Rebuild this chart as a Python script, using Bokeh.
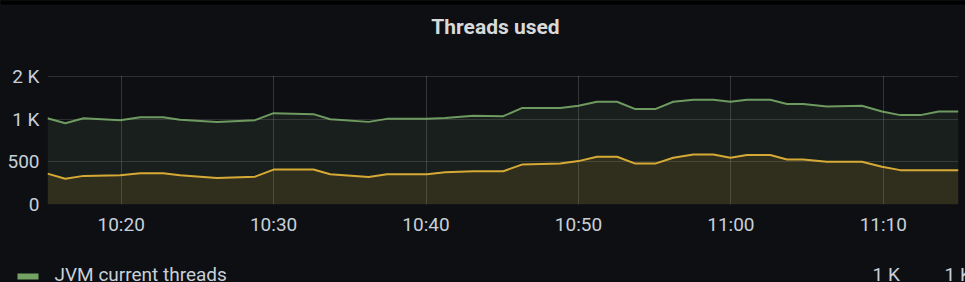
import pandas as pd
from bokeh.plotting import figure
from bokeh.layouts import column
from bokeh.models import (Range1d, FixedTicker, DatetimeTickFormatter, Label, BoxAnnotation, Grid)
from bokeh.embed import file_html
from bokeh.resources import INLINE

# ---------------- data ----------------
DAY = "2021-06-01"
times = ["10:15:10", "10:16:20", "10:17:32", "10:19:56", "10:21:15", "10:22:45", "10:23:52",
         "10:26:17", "10:28:47", "10:30:00", "10:32:37", "10:33:43", "10:36:14", "10:37:26",
         "10:40:04", "10:41:15", "10:43:06", "10:45:04", "10:46:17", "10:48:48", "10:50:00",
         "10:51:13", "10:52:32", "10:53:44", "10:55:02", "10:56:13", "10:57:32", "10:58:51",
         "10:59:58", "11:01:03", "11:02:35", "11:03:41", "11:04:45", "11:06:18", "11:08:36",
         "11:09:55", "11:11:07", "11:12:26", "11:13:38", "11:14:56"]
jvm_current_threads = [1016, 937, 1016, 984, 1033, 1030, 989, 957, 984, 1103, 1085, 1000, 957, 1005,
                       1005, 1021, 1056, 1050, 1197, 1197, 1243, 1328, 1328, 1178, 1178, 1328, 1372, 1372,
                       1328, 1372, 1372, 1279, 1279, 1229, 1243, 1133, 1068, 1068, 1133, 1133]
jvm_other_threads = [413, 380, 398, 402, 416, 416, 402, 385, 393, 441, 441, 409, 391, 409,
                     409, 422, 429, 429, 478, 486, 506, 543, 543, 486, 486, 534, 564, 564,
                     534, 558, 558, 519, 519, 500, 500, 461, 437, 437, 437, 437]
x_start, x_end = "10:15:10", "11:14:56"
x_tick_labels = ["10:20", "10:30", "10:40", "10:50", "11:00", "11:10"]
y_ticks = [250, 500, 1000, 2000]
y_tick_labels = ["0", "500", "1 K", "2 K"]
y_min, y_max = 250, 2033
title_text = "Threads used"
legend_label = "JVM current threads"
legend_values = ["1 K", "1 K"]

# ---------------- styling ----------------
BG = "#0e0f13"
GREEN = "#7eb26d"
YELLOW = "#eab839"
TEXT = "#c7d0d9"
FONT = "Roboto"
BG_STYLE = {"background-color": BG}

def ts(t):
    return pd.Timestamp(f"{DAY} {t}")

x = [ts(t) for t in times]
x_ticks_ms = [ts(t).value / 1e6 for t in x_tick_labels]

W = 965
HT, HA, HB = 50, 208, 24           # title strip, chart, legend strip (sum 282)
LEFT, RIGHT = 47, 7
TOP = 75 - HT                      # frame top at canvas y=75 (2 K line at ~76)
BOTTOM = HA - (204 - HT)           # frame bottom at canvas y=204


def strip(height):
    f = figure(width=W, height=height, x_range=Range1d(0, 1), y_range=Range1d(0, 1),
               output_backend="svg", toolbar_location=None, frame_align=False,
               min_border_left=0, min_border_right=0, min_border_top=0, min_border_bottom=0,
               x_axis_location=None, y_axis_location=None,
               background_fill_color=BG, border_fill_color=BG,
               outline_line_color=BG, outline_line_width=3, outline_line_alpha=1,
               styles=BG_STYLE)
    f.center = [g for g in f.center if not isinstance(g, Grid)]
    return f


# ---------------- title strip ----------------
t = strip(HT)
t.add_layout(BoxAnnotation(left=0, right=W, bottom=HT - 4, top=HT,
                           left_units="screen", right_units="screen",
                           bottom_units="screen", top_units="screen",
                           fill_color="#000000", fill_alpha=1, line_color=None))
t.add_layout(Label(x=495, y=HT - 26, x_units="screen", y_units="screen",
                   text=title_text, text_align="center", text_baseline="middle",
                   text_color="#d8d9da", text_font=FONT, text_font_size="21px",
                   text_font_style="bold"))

# ---------------- chart ----------------
p = figure(width=W, height=HA, x_axis_type="datetime", y_axis_type="log",
           x_range=Range1d(ts(x_start), ts(x_end)), y_range=Range1d(y_min, y_max),
           output_backend="svg", toolbar_location=None, frame_align=False,
           min_border_left=LEFT, min_border_right=RIGHT,
           min_border_top=TOP, min_border_bottom=BOTTOM,
           background_fill_color=BG, border_fill_color=BG, outline_line_color=None,
           styles=BG_STYLE)

p.varea(x=x, y1=y_ticks[0], y2=jvm_current_threads, fill_color=GREEN, fill_alpha=0.1)
p.varea(x=x, y1=y_ticks[0], y2=jvm_other_threads, fill_color=YELLOW, fill_alpha=0.11)
p.line(x=x, y=jvm_current_threads, line_color=GREEN, line_width=2, line_alpha=0.85)
p.line(x=x, y=jvm_other_threads, line_color=YELLOW, line_width=2, line_alpha=0.9)

p.xaxis.ticker = FixedTicker(ticks=x_ticks_ms)
p.xaxis.formatter = DatetimeTickFormatter(minutes="%H:%M", hourmin="%H:%M", hours="%H:%M",
                                          minsec="%H:%M")
p.yaxis.ticker = FixedTicker(ticks=y_ticks, minor_ticks=[])
p.yaxis.major_label_overrides = {v: l for v, l in zip(y_ticks, y_tick_labels)}
for ax in (p.xaxis, p.yaxis):
    ax.axis_line_color = None
    ax.major_tick_line_color = None
    ax.minor_tick_line_color = None
    ax.major_tick_out = 0
    ax.major_tick_in = 0
    ax.minor_tick_out = 0
    ax.minor_tick_in = 0
    ax.major_label_text_color = TEXT
    ax.major_label_text_font = FONT
    ax.major_label_text_font_size = "19px"
p.xaxis.major_label_standoff = 8
p.yaxis.major_label_standoff = 8

p.xgrid.grid_line_color = "#ffffff"
p.xgrid.grid_line_alpha = 0.16
p.ygrid.grid_line_color = "#ffffff"
p.ygrid.grid_line_alpha = 0.13
p.xgrid.ticker = FixedTicker(ticks=x_ticks_ms)
p.ygrid.ticker = FixedTicker(ticks=y_ticks, minor_ticks=[])

# ---------------- legend strip ----------------
q = strip(HB)
base = 282  # canvas bottom
q.add_layout(BoxAnnotation(left=17, right=38, bottom=base - 279, top=base - 273,
                           left_units="screen", right_units="screen",
                           bottom_units="screen", top_units="screen",
                           fill_color=GREEN, fill_alpha=0.9, line_color=None))
q.add_layout(Label(x=54, y=base - 273.5, x_units="screen", y_units="screen",
                   text=legend_label, text_align="left", text_baseline="middle",
                   text_color=TEXT, text_font=FONT, text_font_size="19px"))
for vx, val in zip([872, 944], legend_values):
    q.add_layout(Label(x=vx, y=base - 273.5, x_units="screen", y_units="screen",
                       text=val, text_align="left", text_baseline="middle",
                       text_color=TEXT, text_font=FONT, text_font_size="19px"))

layout = column(t, p, q, spacing=0, styles=BG_STYLE)
open("out.html", "w").write(file_html(layout, INLINE))
